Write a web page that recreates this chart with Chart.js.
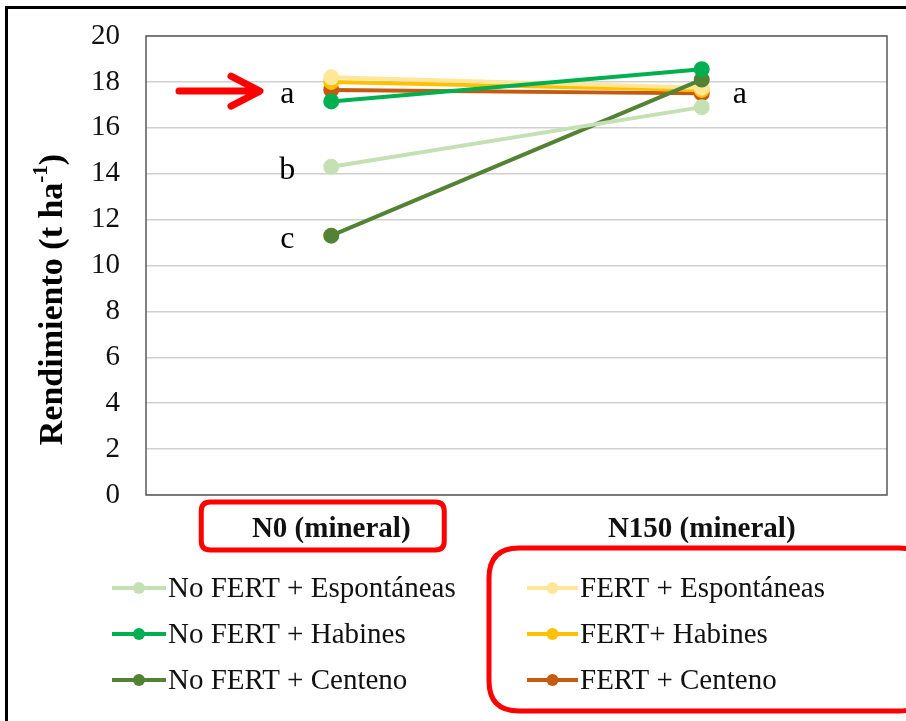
<!DOCTYPE html>
<html>
<head>
<meta charset="utf-8">
<script src="https://cdn.jsdelivr.net/npm/chart.js@4/dist/chart.umd.min.js"></script>
<style>
  body { margin: 0; background: #fff; }
  canvas { display: block; }
</style>
</head>
<body>
<canvas id="myChart" width="906" height="721"></canvas>
<script>
// data
const categories = ['N0 (mineral)', 'N150 (mineral)'];
const seriesNames = [
  'No FERT + Espontáneas',
  'No FERT + Habines',
  'No FERT + Centeno',
  'FERT + Espontáneas',
  'FERT+ Habines',
  'FERT + Centeno'
];
const noFertEsp = [14.3, 16.9];
const noFertHab = [17.15, 18.55];
const noFertCen = [11.3, 18.1];
const fertEsp = [18.2, 17.75];
const fertHab = [18.0, 17.65];
const fertCen = [17.65, 17.5];
const seriesColors = ['#C5E0B4', '#00B050', '#548235', '#FFE699', '#FFC000', '#C55A11'];
const yTicks = [0, 2, 4, 6, 8, 10, 12, 14, 16, 18, 20];
// significance letters: [category index, value, letter, side]
const letters = [
  [0, 17.6, 'a', -1],
  [0, 14.3, 'b', -1],
  [0, 11.3, 'c', -1],
  [1, 17.6, 'a', 1]
];

const allSeries = [noFertEsp, noFertHab, noFertCen, fertEsp, fertHab, fertCen];
const serif = '"Liberation Serif", "Times New Roman", serif';

const datasets = allSeries.map((vals, i) => ({
  label: seriesNames[i],
  data: vals,
  borderColor: seriesColors[i],
  backgroundColor: seriesColors[i],
  pointBackgroundColor: seriesColors[i],
  pointBorderColor: seriesColors[i],
  borderWidth: 4,
  pointRadius: 6,
  tension: 0
}));

function roundRect(ctx, x, y, w, h, r) {
  ctx.beginPath();
  ctx.moveTo(x + r, y);
  ctx.lineTo(x + w - r, y);
  ctx.quadraticCurveTo(x + w, y, x + w, y + r);
  ctx.lineTo(x + w, y + h - r);
  ctx.quadraticCurveTo(x + w, y + h, x + w - r, y + h);
  ctx.lineTo(x + r, y + h);
  ctx.quadraticCurveTo(x, y + h, x, y + h - r);
  ctx.lineTo(x, y + r);
  ctx.quadraticCurveTo(x, y, x + r, y);
  ctx.closePath();
}

const extras = {
  id: 'extras',
  afterDraw(chart) {
    const ctx = chart.ctx;
    const xs = chart.scales.x, ys = chart.scales.y;
    const area = chart.chartArea;
    ctx.save();

    // plot frame
    ctx.strokeStyle = '#595959';
    ctx.lineWidth = 1.5;
    ctx.strokeRect(area.left, area.top, area.right - area.left, area.bottom - area.top);

    // outer black frame (cropped)
    ctx.strokeStyle = '#000';
    ctx.lineWidth = 3;
    ctx.beginPath();
    ctx.moveTo(6.5, 721);
    ctx.lineTo(6.5, 7.5);
    ctx.lineTo(906, 7.5);
    ctx.stroke();

    // y axis title
    ctx.save();
    ctx.translate(53, (area.top + area.bottom) / 2 + 34);
    ctx.rotate(-Math.PI / 2);
    ctx.fillStyle = '#000';
    ctx.textBaseline = 'middle';
    const main = 'Rendimiento (t ha';
    const sup = '-1';
    const close = ')';
    ctx.font = 'bold 34px ' + serif;
    const w1 = ctx.measureText(main).width;
    const w3 = ctx.measureText(close).width;
    ctx.font = 'bold 21px ' + serif;
    const w2 = ctx.measureText(sup).width;
    let x0 = -(w1 + w2 + w3) / 2;
    ctx.textAlign = 'left';
    ctx.font = 'bold 34px ' + serif;
    ctx.fillText(main, x0, 0);
    ctx.font = 'bold 21px ' + serif;
    ctx.fillText(sup, x0 + w1, -11);
    ctx.font = 'bold 34px ' + serif;
    ctx.fillText(close, x0 + w1 + w2, 0);
    ctx.restore();

    // significance letters
    ctx.fillStyle = '#000';
    ctx.font = '32px ' + serif;
    ctx.textAlign = 'center';
    ctx.textBaseline = 'middle';
    letters.forEach(([ci, v, t, side]) => {
      const off = side < 0 ? 44 : 38;
      ctx.fillText(t, xs.getPixelForValue(ci) + side * off, ys.getPixelForValue(v) + 4);
    });

    // red arrow pointing at the first "a"
    const ay = ys.getPixelForValue(17.6);
    ctx.strokeStyle = '#FF0000';
    ctx.fillStyle = '#FF0000';
    ctx.lineWidth = 7;
    ctx.lineCap = 'round';
    ctx.lineJoin = 'round';
    ctx.beginPath();
    ctx.moveTo(179, ay);
    ctx.lineTo(258, ay);
    ctx.moveTo(231, ay - 15);
    ctx.lineTo(260, ay);
    ctx.lineTo(231, ay + 15);
    ctx.stroke();

    // red box around N0 label
    ctx.lineWidth = 5;
    const cx0 = xs.getPixelForValue(0);
    roundRect(ctx, cx0 - 130, 502, 243, 48, 9);
    ctx.stroke();

    // legend
    const rowsY = [588, 634, 680];
    const colLine = [[112, 166], [527, 578]];
    ctx.font = '29px ' + serif;
    ctx.textAlign = 'left';
    ctx.textBaseline = 'middle';
    ctx.lineCap = 'butt';
    datasets.forEach((d, i) => {
      const col = i < 3 ? 0 : 1;
      const row = i % 3;
      const y = rowsY[row];
      const [x1, x2] = colLine[col];
      ctx.strokeStyle = d.borderColor;
      ctx.lineWidth = 4;
      ctx.beginPath();
      ctx.moveTo(x1, y);
      ctx.lineTo(x2, y);
      ctx.stroke();
      ctx.fillStyle = d.borderColor;
      ctx.beginPath();
      ctx.arc((x1 + x2) / 2, y, 6, 0, Math.PI * 2);
      ctx.fill();
      ctx.fillStyle = '#111';
      ctx.fillText(d.label, x2 + 2, y + 1);
    });

    // red box around FERT legend column
    ctx.strokeStyle = '#FF0000';
    ctx.lineWidth = 5;
    roundRect(ctx, 489, 548, 440, 163, 30);
    ctx.stroke();

    ctx.restore();
  }
};

new Chart(document.getElementById('myChart'), {
  type: 'line',
  data: { labels: categories, datasets: datasets },
  options: {
    responsive: false,
    animation: false,
    layout: { padding: { left: 0, top: 36, right: 19, bottom: 0 } },
    plugins: {
      legend: { display: false },
      tooltip: { enabled: false }
    },
    scales: {
      x: {
        offset: true,
        grid: { display: false, drawTicks: false },
        border: { display: false },
        ticks: {
          padding: 17,
          color: '#111',
          font: { family: serif, size: 29, weight: 'bold' }
        },
        afterFit(scale) { scale.height = 226; }
      },
      y: {
        min: 0,
        max: 20,
        afterBuildTicks(scale) { scale.ticks = yTicks.map(v => ({ value: v })); },
        grid: { color: '#D0D0D0', lineWidth: 1.5, drawTicks: false },
        border: { display: false },
        ticks: {
          padding: 26,
          color: '#111',
          font: { family: serif, size: 29 }
        },
        afterFit(scale) {
          scale.width = 146;
          scale.paddingTop = 0;
          scale.paddingBottom = 0;
        }
      }
    }
  },
  plugins: [extras]
});
</script>
</body>
</html>
